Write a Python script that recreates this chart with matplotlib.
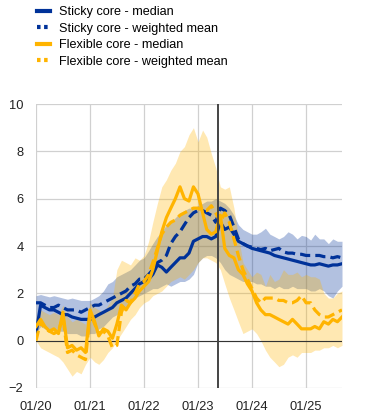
import matplotlib
matplotlib.use("Agg")
import matplotlib.pyplot as plt
import matplotlib.dates as mdates
import pandas as pd
import numpy as np

plt.rcParams['font.family'] = ['Liberation Sans', 'DejaVu Sans']

start = "2020-01-01"
n_months = 69

sticky_median = [0.3, 1.5, 1.4, 1.3, 1.3, 1.2, 1.1, 1.1, 1.0, 0.95, 0.9, 0.9,
                 0.9, 1.0, 1.1, 1.2, 1.3, 1.4, 1.6, 1.7, 1.8, 2.0, 2.2, 2.4,
                 2.5, 2.6, 2.8, 3.2, 3.1, 2.9, 3.1, 3.3, 3.5, 3.5, 3.7, 4.2,
                 4.3, 4.4, 4.4, 4.3, 4.4, 5.0, 4.7, 4.8, 4.5, 4.2, 4.1, 4.0,
                 3.9, 3.85, 3.8, 3.75, 3.7, 3.6, 3.55, 3.5, 3.45, 3.4, 3.35, 3.3,
                 3.25, 3.2, 3.2, 3.25, 3.2, 3.15, 3.2, 3.2, 3.25]
sticky_wmean = [1.6, 1.6, 1.5, 1.4, 1.4, 1.5, 1.4, 1.3, 1.3, 1.3, 1.2, 1.3,
                1.4, 1.5, 1.5, 1.6, 1.7, 1.8, 1.9, 2.0, 2.1, 2.3, 2.4, 2.6,
                2.6, 2.8, 3.0, 3.3, 3.4, 3.6, 4.1, 4.4, 4.6, 4.9, 5.2, 5.4,
                5.5, 5.5, 5.4, 5.3, 5.0, 5.6, 5.5, 5.3, 4.8, 4.3, 4.1, 4.0,
                3.95, 3.9, 3.85, 3.9, 3.8, 3.85, 3.9, 3.75, 3.7, 3.7, 3.65, 3.65,
                3.6, 3.6, 3.6, 3.6, 3.55, 3.55, 3.5, 3.55, 3.5]
sticky_low = [0.3, 0.6, 0.5, 0.5, 0.5, 0.4, 0.4, 0.3, 0.3, 0.3, 0.2, 0.2,
              0.3, 0.3, 0.5, 0.6, 0.8, 1.0, 1.1, 1.3, 1.4, 1.6, 1.8, 1.9,
              2.0, 2.1, 2.2, 2.2, 2.3, 2.4, 2.3, 2.4, 2.5, 2.5, 2.6, 2.8,
              3.3, 3.5, 3.6, 3.6, 3.5, 3.3, 3.0, 2.8, 2.7, 2.6, 2.5, 2.5,
              2.5, 2.4, 2.4, 2.3, 2.3, 2.2, 2.3, 2.2, 2.2, 2.3, 2.2, 2.2,
              2.2, 2.1, 2.1, 2.2, 2.1, 1.9, 1.8, 2.1, 2.3]
sticky_high = [1.9, 1.95, 1.9, 1.85, 1.9, 1.85, 1.8, 1.75, 1.8, 1.75, 1.7, 1.7,
               1.7, 1.8, 1.9, 2.1, 2.4, 2.5, 2.7, 2.8, 2.9, 3.0, 3.2, 3.4,
               3.5, 3.8, 4.1, 4.4, 4.6, 4.9, 5.0, 5.2, 5.4, 5.5, 5.6, 5.6,
               5.7, 5.8, 5.9, 5.9, 6.0, 5.9, 5.8, 5.6, 5.3, 4.9, 4.7, 4.6,
               4.5, 4.5, 4.6, 4.75, 4.5, 4.4, 4.3, 4.4, 4.6, 4.5, 4.3, 4.45,
               4.4, 4.25, 4.5, 4.3, 4.3, 4.1, 4.3, 4.2, 4.2]

flex_median = [0.6, 0.9, 0.6, 0.4, 0.5, 0.3, 1.2, -0.3, -0.2, -0.4, -0.3, -0.5,
               1.3, 0.8, 0.2, 0.5, 0.4, 0.1, 0.7, 1.5, 1.3, 1.6, 1.8, 2.1,
               2.3, 2.5, 3.0, 3.8, 4.6, 5.2, 5.6, 6.0, 6.5, 6.0, 5.9, 6.5,
               6.2, 5.4, 4.7, 4.5, 4.6, 5.3, 3.9, 3.6, 3.5, 3.0, 2.8, 2.4,
               2.1, 1.6, 1.3, 1.1, 1.1, 1.0, 0.9, 0.8, 0.7, 0.9, 0.7, 0.5,
               0.5, 0.5, 0.6, 0.5, 0.8, 0.7, 0.9, 0.8, 1.0]
flex_wmean = [0.0, 0.8, 0.5, 0.4, 0.3, 0.4, 1.0, -0.5, -0.4, -0.6, -0.7, -0.8,
              1.2, 0.7, 0.3, 0.4, 0.2, -0.3, -0.2, 1.2, 1.7, 1.6, 2.0, 2.4,
              2.5, 2.8, 3.3, 3.9, 4.5, 4.8, 5.0, 5.1, 5.3, 5.4, 5.5, 5.6,
              5.6, 5.5, 5.5, 5.7, 5.4, 5.0, 5.4, 5.0, 4.3, 3.6, 3.0, 2.6,
              2.2, 1.8, 1.6, 1.8, 1.8, 1.8, 1.7, 1.7, 1.6, 1.6, 1.7, 1.9,
              1.6, 1.6, 1.3, 1.1, 1.0, 1.0, 1.1, 1.2, 1.3]
flex_low = [0.0, -0.3, -0.4, -0.5, -0.6, -0.7, -0.9, -1.2, -1.5, -1.3, -1.4, -1.0,
            -0.7, -0.9, -1.0, -0.8, -0.5, -0.3, 0.0, 0.3, 0.6, 0.9, 1.1, 1.4,
            1.6, 1.7, 1.9, 2.0, 2.1, 2.3, 2.5, 2.6, 2.7, 2.6, 2.8, 3.0,
            3.3, 3.5, 3.5, 3.4, 3.3, 3.0, 2.4, 1.8, 1.3, 0.8, 0.3, 0.4,
            0.5, 0.3, 0.0, -0.4, -0.7, -0.9, -1.1, -1.0, -0.7, -0.6, -0.7, -0.5,
            -0.5, -0.5, -0.4, -0.4, -0.3, -0.3, -0.2, -0.3, -0.2]
flex_high = [1.0, 1.3, 1.2, 1.1, 1.2, 1.1, 1.5, 1.0, 0.8, 0.9, 0.8, 0.7,
             1.6, 1.4, 1.3, 1.2, 1.5, 1.8, 3.0, 3.4, 3.3, 3.2, 3.5, 3.4,
             3.6, 4.2, 5.0, 5.8, 6.5, 6.8, 7.2, 7.5, 8.0, 8.2, 8.7, 9.0,
             8.4, 8.9, 8.6, 7.9, 7.3, 6.5, 6.4, 6.5, 5.6, 4.4, 3.3, 3.0,
             2.7, 2.9, 2.8, 2.3, 2.8, 2.5, 2.6, 3.0, 2.8, 2.8, 2.9, 2.7,
             2.8, 2.7, 2.7, 2.6, 2.0, 1.8, 1.8, 2.0, 2.1]

legend_labels = ["Sticky core - median", "Sticky core - weighted mean",
                 "Flexible core - median", "Flexible core - weighted mean"]
y_ticks = [-2, 0, 2, 4, 6, 8, 10]
marker_date = "2023-05-13"

dates = pd.date_range(start, periods=n_months, freq="MS")

BLUE = "#003299"
ORANGE = "#FFB400"

fig = plt.figure(figsize=(3.72, 4.16), dpi=100)
ax = fig.add_axes([36/372, 1-388/416, (342-36)/372, (388-104)/416])

ax.fill_between(dates, sticky_low, sticky_high, color=BLUE, alpha=0.3, linewidth=0)
ax.fill_between(dates, flex_low, flex_high, color=ORANGE, alpha=0.3, linewidth=0)

lw = 2.3
ax.plot(dates, sticky_median, color=BLUE, lw=lw)
ax.plot(dates, sticky_wmean, color=BLUE, lw=lw, dashes=(3.2, 1.6))
ax.plot(dates, flex_median, color=ORANGE, lw=lw)
ax.plot(dates, flex_wmean, color=ORANGE, lw=lw, dashes=(3.2, 1.6))

ax.axhline(0, color="#333333", lw=0.8, zorder=1)
ax.axvline(pd.Timestamp(marker_date), color="#444444", lw=1.4, zorder=5)

ax.set_ylim(-2, 10)
ax.set_yticks(y_ticks)
ax.set_xlim(dates[0], dates[-1])
ax.xaxis.set_major_locator(mdates.YearLocator())
ax.xaxis.set_major_formatter(mdates.DateFormatter("%m/%y"))
ax.grid(True, color="#d0d0d0", lw=0.9)
ax.set_axisbelow(True)
for s in ax.spines.values():
    s.set_visible(False)
ax.tick_params(length=0, labelsize=9.3, colors="#222222")
ax.tick_params(axis='y', pad=9)
ax.tick_params(axis='x', pad=9)

leg_handles = [
    plt.Line2D([], [], color=BLUE, lw=3.0),
    plt.Line2D([], [], color=BLUE, lw=3.0, dashes=(0.85, 0.85)),
    plt.Line2D([], [], color=ORANGE, lw=3.0),
    plt.Line2D([], [], color=ORANGE, lw=3.0, dashes=(0.85, 0.85)),
]
fig.legend(leg_handles, legend_labels, loc="upper left",
           bbox_to_anchor=(37/372, 1 - 6/416), frameon=False, fontsize=9.1,
           handlelength=1.0, handletextpad=0.75, labelspacing=0.36,
           borderaxespad=0.0, borderpad=0.0)

fig.savefig("out.png", dpi=100)
